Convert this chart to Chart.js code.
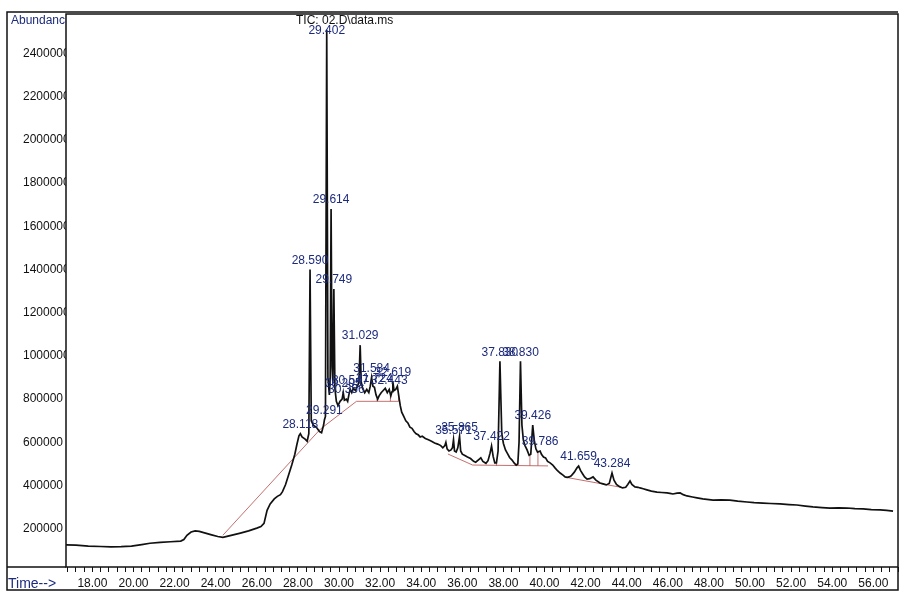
<!DOCTYPE html>
<html>
<head>
<meta charset="utf-8">
<title>TIC: 02.D\data.ms</title>
<script src="https://cdn.jsdelivr.net/npm/chart.js@4.4.1/dist/chart.umd.min.js"></script>
<style>
  html, body { margin: 0; padding: 0; background: #fff; }
  canvas { display: block; }
</style>
</head>
<body>
<canvas id="tic" width="902" height="594"></canvas>
<script>
// retention time (min) and abundance
const times = [
  16.72, 17.2, 17.8, 18.4, 18.9, 19.4, 19.9, 20.4, 20.8, 21.3, 21.8, 22.3,
  22.45, 22.6, 22.8, 23.0, 23.2, 23.5, 23.8, 24.1, 24.35, 24.7,
  25.2, 25.6, 26.0, 26.2, 26.35, 26.5, 26.65, 26.85, 27.0, 27.15,
  27.25, 27.4, 27.55, 27.7, 27.85, 27.95, 28.05, 28.118, 28.2, 28.35,
  28.45, 28.53, 28.59, 28.65, 28.75, 28.9, 29.05, 29.15, 29.25, 29.291,
  29.34, 29.402, 29.46, 29.53, 29.57, 29.614, 29.66, 29.7, 29.749, 29.8,
  29.87, 29.95, 30.05, 30.15, 30.205, 30.26, 30.356, 30.42, 30.5, 30.547,
  30.62, 30.7, 30.8, 30.9, 30.97, 31.029, 31.08, 31.15, 31.25, 31.35,
  31.45, 31.52, 31.584, 31.65, 31.724, 31.8, 31.88, 31.95, 32.05, 32.15,
  32.25, 32.35, 32.443, 32.52, 32.58, 32.619, 32.68, 32.76, 32.84, 32.9,
  32.98, 33.05, 33.15, 33.25, 33.35, 33.45, 33.55, 33.65, 33.75, 33.85,
  33.95, 34.05, 34.2, 34.35, 34.5, 34.65, 34.8, 34.95, 35.05, 35.15,
  35.2, 35.26, 35.35, 35.45, 35.52, 35.571, 35.62, 35.7, 35.78, 35.865,
  35.92, 36.0, 36.1, 36.25, 36.4, 36.55, 36.65, 36.8, 36.9, 37.0,
  37.15, 37.25, 37.35, 37.422, 37.5, 37.58, 37.66, 37.74, 37.83, 37.92,
  38.0, 38.1, 38.2, 38.3, 38.42, 38.52, 38.62, 38.7, 38.76, 38.83,
  38.9, 38.97, 39.05, 39.15, 39.25, 39.33, 39.426, 39.5, 39.58, 39.66,
  39.786, 39.85, 39.95, 40.05, 40.15, 40.27, 40.4, 40.51, 40.62, 40.76,
  40.9, 41.0, 41.1, 41.2, 41.3, 41.45, 41.58, 41.659, 41.75, 41.85,
  41.95, 42.07, 42.2, 42.36, 42.5, 42.7, 42.85, 43.0, 43.15, 43.284,
  43.38, 43.5, 43.65, 43.8, 43.95, 44.05, 44.16, 44.25, 44.4, 44.55,
  44.65, 44.8, 44.98, 45.2, 45.47, 45.7, 45.96, 46.1, 46.25, 46.45,
  46.6, 46.75, 46.93, 47.2, 47.42, 47.7, 48.0, 48.2, 48.6, 49.02,
  49.4, 49.85, 50.2, 50.63, 51.0, 51.46, 51.9, 52.28, 52.7, 53.06,
  53.5, 53.89, 54.3, 54.72, 55.1, 55.5, 55.9, 56.33, 56.65, 56.96
];
const abundance = [
  125000, 124000, 120000, 118000, 116000, 117000, 120000, 127000, 133000, 137000, 140000, 143000,
  150000, 170000, 185000, 190000, 188000, 180000, 172000, 164000, 160000, 168000,
  180000, 190000, 203000, 210000, 225000, 285000, 315000, 338000, 350000, 358000,
  372000, 405000, 450000, 495000, 545000, 590000, 630000, 640000, 625000, 615000,
  605000, 640000, 1400000, 700000, 680000, 670000, 650000, 645000, 680000, 705000,
  720000, 2510000, 900000, 820000, 900000, 1680000, 950000, 880000, 1310000, 850000,
  790000, 770000, 790000, 800000, 830000, 795000, 800000, 790000, 830000, 845000,
  830000, 850000, 840000, 860000, 880000, 1050000, 880000, 850000, 830000, 845000,
  830000, 860000, 900000, 860000, 855000, 820000, 800000, 815000, 830000, 840000,
  850000, 830000, 845000, 815000, 835000, 880000, 840000, 845000, 860000, 820000,
  770000, 740000, 720000, 700000, 690000, 670000, 665000, 650000, 640000, 635000,
  625000, 628000, 618000, 612000, 605000, 597000, 592000, 585000, 575000, 585000,
  600000, 570000, 560000, 565000, 575000, 612000, 560000, 555000, 575000, 628000,
  560000, 545000, 540000, 532000, 525000, 512000, 508000, 520000, 528000, 512000,
  503000, 515000, 550000, 583000, 535000, 505000, 505000, 560000, 975000, 640000,
  595000, 565000, 548000, 530000, 518000, 505000, 495000, 500000, 600000, 975000,
  680000, 610000, 585000, 565000, 540000, 545000, 680000, 610000, 570000, 555000,
  560000, 545000, 532000, 528000, 512000, 505000, 495000, 482000, 470000, 458000,
  448000, 440000, 438000, 440000, 445000, 462000, 482000, 490000, 470000, 455000,
  440000, 430000, 432000, 440000, 425000, 412000, 408000, 403000, 410000, 458000,
  425000, 405000, 395000, 389000, 392000, 405000, 421000, 405000, 394000, 392000,
  389000, 385000, 380000, 374000, 370000, 368000, 366000, 364000, 361000, 365000,
  366000, 358000, 352000, 347000, 343000, 338000, 335000, 333000, 334000, 333000,
  328000, 324000, 321000, 319000, 317000, 315000, 312000, 310000, 305000, 301000,
  298000, 296000, 297000, 296000, 293000, 292000, 289000, 287000, 285000, 282000
];

// integration baselines; a null level breaks the line
const baseTimes = [24.35, 29.1, 30.85, 32.9, 32.9, 31.85, 31.85, 31.85, 32.5, 32.5, 32.5, 32.9, 32.9,
  32.9, 35.3, 36.5, 40.17, 40.17, 37.66, 37.66, 37.66, 39.29, 39.29, 39.29, 39.68, 39.68, 39.68, 41.05, 43.6];
const baseLevels = [170000, 662000, 790000, 790000, null, 790000, 800000, null, 790000, 815000, null, 790000, 820000,
  null, 546000, 495000, 491000, null, 491000, 505000, null, 491000, 540000, null, 491000, 555000, null, 438000, 394000];

// labelled peaks: retention time and apex abundance
const peakTimes = [28.118, 28.590, 29.291, 29.402, 29.614, 29.749, 30.205, 30.356, 30.547, 31.029, 31.584, 31.724,
  32.443, 32.619, 35.571, 35.865, 37.422, 37.830, 38.830, 39.426, 39.786, 41.659, 43.284];
const peakApex = [640000, 1400000, 705000, 2510000, 1680000, 1310000, 830000, 800000, 845000, 1050000, 900000, 855000,
  845000, 880000, 612000, 628000, 583000, 975000, 975000, 680000, 560000, 490000, 458000];

const abundanceTicks = [200000, 400000, 600000, 800000, 1000000, 1200000, 1400000, 1600000, 1800000, 2000000, 2200000, 2400000];
const timeTicks = [18, 20, 22, 24, 26, 28, 30, 32, 34, 36, 38, 40, 42, 44, 46, 48, 50, 52, 54, 56];

const FONT = '"Liberation Sans", Arial, sans-serif';
const NAVY = '#1d2b7d';
Chart.defaults.font.family = FONT;

const printout = {
    id: 'printout',
    beforeDraw(chart) {
        const ctx = chart.ctx;
        ctx.save();
        ctx.fillStyle = '#fff';
        ctx.fillRect(0, 0, chart.width, chart.height);
        ctx.restore();
    },
    beforeDatasetsDraw(chart) {
        // hides the end of the long y labels under the plot, as on the printout
        const {ctx, chartArea: a} = chart;
        ctx.save();
        ctx.fillStyle = '#fff';
        ctx.fillRect(a.left, a.top, a.right - a.left, a.bottom - a.top);
        ctx.restore();
    },
    afterDraw(chart) {
        const {ctx, chartArea: a, scales: {x, y}} = chart;
        ctx.save();

        // frames
        ctx.strokeStyle = '#111';
        ctx.lineWidth = 1.5;
        ctx.beginPath();
        ctx.moveTo(a.right, 12);
        ctx.lineTo(7, 12);
        ctx.lineTo(7, 590);
        ctx.lineTo(a.right, 590);
        ctx.lineTo(a.right, a.bottom);
        ctx.moveTo(7, a.bottom);
        ctx.lineTo(a.left, a.bottom);
        ctx.stroke();
        ctx.strokeRect(a.left, a.top, a.right - a.left, a.bottom - a.top);

        // axis captions
        ctx.save();
        ctx.beginPath();
        ctx.rect(0, 0, a.left, a.bottom);
        ctx.clip();
        ctx.fillStyle = NAVY;
        ctx.font = '12px ' + FONT;
        ctx.textAlign = 'left';
        ctx.textBaseline = 'middle';
        ctx.fillText('Abundance', 11, 21);
        ctx.restore();

        ctx.fillStyle = NAVY;
        ctx.font = '14px ' + FONT;
        ctx.textAlign = 'left';
        ctx.textBaseline = 'middle';
        ctx.fillText('Time-->', 8, 584);

        // title
        ctx.fillStyle = '#111';
        ctx.font = '12px ' + FONT;
        ctx.fillText('TIC: 02.D\\data.ms', 296, 21);

        // peak labels
        ctx.fillStyle = NAVY;
        ctx.textAlign = 'center';
        peakTimes.forEach((t, i) => {
            const px = x.getPixelForValue(t);
            const py = Math.max(y.getPixelForValue(peakApex[i]) - 9, a.top + 17);
            ctx.fillText(t.toFixed(3), px, py);
        });
        ctx.restore();
    }
};

new Chart(document.getElementById('tic'), {
    type: 'line',
    data: {
        datasets: [
            {
                label: 'baseline',
                data: baseTimes.map((t, i) => ({x: t, y: baseLevels[i]})),
                borderColor: 'rgba(190, 95, 95, 0.9)',
                borderWidth: 1,
                pointRadius: 0,
                spanGaps: false,
                order: 2
            },
            {
                label: 'TIC',
                data: times.map((t, i) => ({x: t, y: abundance[i]})),
                borderColor: '#111',
                borderWidth: 1.7,
                pointRadius: 0,
                tension: 0,
                order: 1
            }
        ]
    },
    options: {
        responsive: false,
        animation: false,
        devicePixelRatio: 1,
        layout: { padding: { left: 23, top: 14, right: 4, bottom: 4 } },
        plugins: {
            legend: { display: false },
            tooltip: { enabled: false }
        },
        scales: {
            x: {
                type: 'linear',
                min: 16.715,
                max: 57.2,
                border: { display: false },
                grid: { display: true, drawOnChartArea: false, drawTicks: true, tickLength: 5, color: '#111' },
                afterBuildTicks: scale => {
                    const ticks = [];
                    for (let i = 42; i <= 143; i++) ticks.push({value: Math.round(i * 4) / 10});
                    scale.ticks = ticks;
                },
                afterFit: scale => { scale.height = 23; },
                ticks: {
                    autoSkip: false,
                    maxRotation: 0,
                    padding: 4,
                    color: '#111',
                    font: { size: 12 },
                    callback: v => timeTicks.includes(v) ? v.toFixed(2) : ''
                }
            },
            y: {
                min: 23000,
                max: 2583000,
                border: { display: false },
                grid: { display: false },
                afterBuildTicks: scale => {
                    scale.ticks = abundanceTicks.map(v => ({value: v}));
                },
                afterFit: scale => { scale.width = 43; },
                ticks: {
                    crossAlign: 'far',
                    padding: 0,
                    color: '#111',
                    font: { size: 12 },
                    callback: v => String(v)
                }
            }
        }
    },
    plugins: [printout]
});
</script>
</body>
</html>
